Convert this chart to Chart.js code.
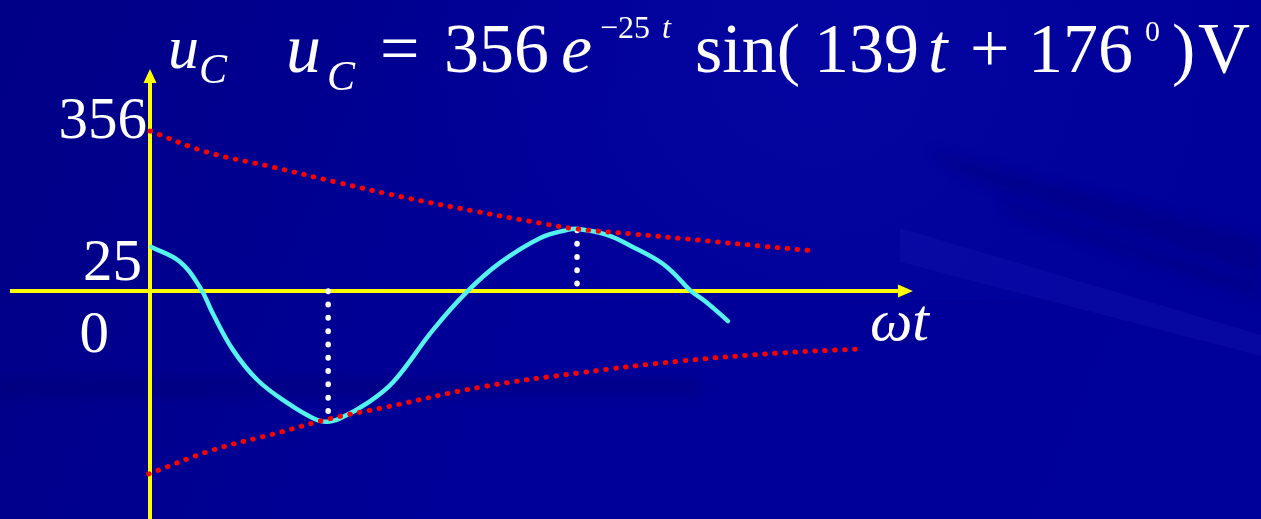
<!DOCTYPE html>
<html>
<head>
<meta charset="utf-8">
<script src="https://cdn.jsdelivr.net/npm/chart.js@4.4.1/dist/chart.umd.min.js"></script>
<style>
  html, body { margin: 0; padding: 0; background: #000096; overflow: hidden; }
  canvas { display: block; }
</style>
</head>
<body>
<canvas id="uc" width="1261" height="519"></canvas>
<script>
// ωt in degrees, u_C in volts
const curveX = [1, 22, 37, 46, 61, 79, 101, 120, 130, 140, 160, 179, 208, 233, 257, 287, 307, 315, 336, 355, 375, 385, 397, 410, 425];
const curveY = [98, 65, 7, -49, -131, -198, -249, -283, -291, -283, -249, -202, -87, -2, 62, 118, 136, 138, 125, 98, 65, 40, 2, -27, -67];

// envelopes +/- 356 e^(-25t)
const upperX = [0, 42, 90, 140, 189, 238, 287, 314, 355, 404, 449, 489];
const upperY = [356, 309, 276, 240, 207, 178, 151, 138, 127, 113, 100, 89];
const lowerX = [-1, 46, 96, 131, 174, 243, 316, 390, 463, 521];
const lowerY = [-407, -354, -314, -285, -258, -214, -182, -156, -138, -129];

// dotted drop lines at the extremes
const markerX = [131, 314];
const markerFrom = [0, 16];
const markerTo = [-269, 138];

const tickLabels = ["356", "25", "0"];
const tickValues = [356, 25, 0];

const SERIF = "'Liberation Serif', 'Times New Roman', serif";

function pts(xs, ys) {
    return xs.map((v, i) => ({ x: v, y: ys[i] }));
}

// Fondo azul de la diapositiva
const backdrop = {
    id: "backdrop",
    beforeDraw(chart) {
        const { ctx, width, height } = chart;
        ctx.save();
        const g = ctx.createLinearGradient(0, 0, width, height);
        g.addColorStop(0, "#000086");
        g.addColorStop(0.45, "#000098");
        g.addColorStop(1, "#00009a");
        ctx.fillStyle = g;
        ctx.fillRect(0, 0, width, height);

        // slightly brighter haze behind the formula
        const h = ctx.createRadialGradient(820, 50, 20, 820, 50, 420);
        h.addColorStop(0, "rgba(15,15,180,0.28)");
        h.addColorStop(1, "rgba(15,15,180,0)");
        ctx.fillStyle = h;
        ctx.fillRect(0, 0, width, 300);

        ctx.filter = "blur(6px)";
        // dark streaks top right
        ctx.fillStyle = "rgba(0,0,90,0.22)";
        ctx.beginPath();
        ctx.moveTo(930, 150); ctx.lineTo(1261, 240); ctx.lineTo(1261, 275); ctx.lineTo(960, 175);
        ctx.closePath(); ctx.fill();
        ctx.beginPath();
        ctx.moveTo(1000, 200); ctx.lineTo(1261, 285); ctx.lineTo(1261, 300); ctx.lineTo(1010, 215);
        ctx.closePath(); ctx.fill();

        // dark band lower left
        ctx.fillStyle = "rgba(0,0,80,0.18)";
        ctx.fillRect(0, 378, 700, 18);
        ctx.filter = "none";

        // faint light streak on the right
        ctx.fillStyle = "rgba(40,40,200,0.18)";
        ctx.beginPath();
        ctx.moveTo(900, 228); ctx.lineTo(1261, 335); ctx.lineTo(1261, 356); ctx.lineTo(900, 262);
        ctx.closePath(); ctx.fill();
        ctx.restore();
    }
};

// Ejes amarillos con flechas
const axesPlugin = {
    id: "axes",
    beforeDatasetsDraw(chart) {
        const { ctx, scales: { x, y } } = chart;
        const x0 = x.getPixelForValue(0);
        const y0 = y.getPixelForValue(0);
        const yTip = y.getPixelForValue(494);
        const xStart = x.getPixelForValue(-103);
        const xTip = x.getPixelForValue(561);
        ctx.save();
        ctx.strokeStyle = "#ffff00";
        ctx.fillStyle = "#ffff00";
        ctx.lineWidth = 4;
        ctx.beginPath();
        ctx.moveTo(x0, chart.height);
        ctx.lineTo(x0, yTip + 12);
        ctx.moveTo(xStart, y0);
        ctx.lineTo(xTip - 13, y0);
        ctx.stroke();
        ctx.beginPath();
        ctx.moveTo(x0, yTip);
        ctx.lineTo(x0 - 6.5, yTip + 14);
        ctx.lineTo(x0 + 6.5, yTip + 14);
        ctx.closePath();
        ctx.fill();
        ctx.beginPath();
        ctx.moveTo(xTip, y0);
        ctx.lineTo(xTip - 15, y0 - 6.5);
        ctx.lineTo(xTip - 15, y0 + 6.5);
        ctx.closePath();
        ctx.fill();
        ctx.restore();
    }
};

// Textos: fórmula, etiquetas de ejes y ticks
const textPlugin = {
    id: "texts",
    afterDraw(chart) {
        const { ctx, scales: { x, y } } = chart;
        const x0 = x.getPixelForValue(0);
        ctx.save();
        ctx.fillStyle = "#ffffff";
        ctx.textBaseline = "alphabetic";

        const put = (txt, px, py, size, italic, align) => {
            ctx.font = (italic ? "italic " : "") + size + "px " + SERIF;
            ctx.textAlign = align || "left";
            ctx.fillText(txt, px, py);
        };

        // tick labels
        const tickShift = [{ dx: -3, dy: 7 }, { dx: -8, dy: 0 }, { dx: -41, dy: 61 }];
        tickLabels.forEach((t, i) => {
            put(t, x0 + tickShift[i].dx, y.getPixelForValue(tickValues[i]) + tickShift[i].dy, 59, false, "right");
        });

        // axis names
        put("u", 168, 68, 62, true);
        put("C", 199, 83, 42, true);
        put("ωt", 870, 340, 60, true);

        // u_C = 356 e^(-25t) sin(139t + 176°) V
        put("u", 286, 72, 70, true);
        put("C", 327, 90, 42, true);
        put("=", 380, 72, 70, false);
        put("356", 444, 72, 70, false);
        put("e", 561, 72, 70, true);
        put("\u221225", 600, 38, 32, false);
        put("t", 662, 38, 32, true);
        put("sin(", 695, 72, 70, false);
        put("139", 814, 72, 70, false);
        put("t", 928, 72, 70, true);
        put("+", 970, 72, 70, false);
        put("176", 1028, 72, 70, false);
        put("0", 1145, 41, 30, false);
        put(")", 1172, 72, 70, false);
        ctx.font = "72px " + SERIF;
        ctx.fillText("V", 1198, 72);
        ctx.restore();
    }
};

const markerSets = markerX.map((mx, i) => ({
    data: pts([mx, mx], [markerFrom[i], markerTo[i]]),
    showLine: true,
    borderColor: "#ffffff",
    borderWidth: 5.5,
    borderDash: [0.5, 12.8],
    borderCapStyle: "round",
    pointRadius: 0
}));

const envelope = (xs, ys) => ({
    data: pts(xs, ys),
    showLine: true,
    borderColor: "#ff0000",
    borderWidth: 5,
    borderDash: [0.5, 9.5],
    borderCapStyle: "round",
    tension: 0.4,
    pointRadius: 0
});

new Chart(document.getElementById("uc"), {
    type: "scatter",
    data: {
        datasets: [
            envelope(upperX, upperY),
            envelope(lowerX, lowerY),
            {
                data: pts(curveX, curveY),
                showLine: true,
                borderColor: "#55f2ee",
                borderWidth: 4.5,
                borderCapStyle: "round",
                tension: 0.4,
                pointRadius: 0
            },
            ...markerSets
        ]
    },
    options: {
        responsive: false,
        animation: false,
        layout: { padding: 0 },
        plugins: { legend: { display: false }, tooltip: { enabled: false } },
        scales: {
            x: { type: "linear", min: -150 / 1.36, max: 1111 / 1.36, display: false },
            y: { type: "linear", min: -228 / 0.44944, max: 291 / 0.44944, display: false }
        }
    },
    plugins: [backdrop, axesPlugin, textPlugin]
});
</script>
</body>
</html>
